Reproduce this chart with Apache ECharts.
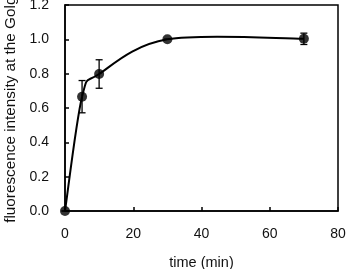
<!DOCTYPE html>
<html>
<head>
<meta charset="utf-8">
<script src="https://cdn.jsdelivr.net/npm/echarts@6/dist/echarts.min.js"></script>
<style>
  html, body { margin: 0; padding: 0; background: #fff; }
  #chart { width: 349px; height: 269px; }
</style>
</head>
<body>
<div id="chart"></div>
<script>
  // time points (min), mean intensity and error bar half-widths
  var times = [0, 5, 10, 30, 70]
  var intensity = [0, 0.666, 0.798, 1.0, 1.003]
  var errors = [0, 0.094, 0.083, 0, 0.033]
  var xTicks = [0, 20, 40, 60, 80]
  var yTicks = [0, 0.2, 0.4, 0.6, 0.8, 1.0, 1.2]

  var font = 'Liberation Sans, Arial, sans-serif'
  var chart = echarts.init(document.getElementById('chart'))

  var points = times.map(function (t, i) { return [t, intensity[i]] })
  var bars = times.map(function (t, i) {
    return [t, intensity[i] - errors[i], intensity[i] + errors[i]]
  })

  // smoothed segment i -> i+1 (catmull-rom style, like a spreadsheet "smoothed line")
  function segment(params, api) {
    var i = params.dataIndex
    if (i >= points.length - 1) return
    var p = function (k) {
      k = Math.max(0, Math.min(points.length - 1, k))
      return api.coord(points[k])
    }
    var p0 = p(i - 1), p1 = p(i), p2 = p(i + 1), p3 = p(i + 2)
    var c1 = [p1[0] + (p2[0] - p0[0]) / 6, p1[1] + (p2[1] - p0[1]) / 6]
    var c2 = [p2[0] - (p3[0] - p1[0]) / 6, p2[1] - (p3[1] - p1[1]) / 6]
    return {
      type: 'bezierCurve',
      shape: { x1: p1[0], y1: p1[1], x2: p2[0], y2: p2[1], cpx1: c1[0], cpy1: c1[1], cpx2: c2[0], cpy2: c2[1] },
      style: { stroke: '#000', lineWidth: 2, fill: null }
    }
  }

  var option = {
    animation: false,
    grid: {
      left: 65, right: 11, top: 5, bottom: 58,
      outerBoundsMode: 'none',
      containLabel: false,
      show: true,
      borderColor: '#000',
      borderWidth: 1.5
    },
    xAxis: {
      type: 'value',
      min: xTicks[0],
      max: xTicks[xTicks.length - 1],
      interval: 20,
      name: 'time (min)',
      nameLocation: 'middle',
      nameGap: 44,
      nameTextStyle: { color: '#111', fontSize: 14.5, fontFamily: font },
      axisLine: { lineStyle: { color: '#000', width: 1.5 } },
      axisTick: { inside: true, length: 4, lineStyle: { color: '#000', width: 1.5 } },
      axisLabel: { color: '#111', fontSize: 14, fontFamily: font, margin: 16 },
      splitLine: { show: false }
    },
    yAxis: {
      type: 'value',
      min: yTicks[0],
      max: yTicks[yTicks.length - 1],
      interval: 0.2,
      name: 'fluorescence intensity at the Golgi',
      nameLocation: 'middle',
      nameGap: 45,
      nameTextStyle: { color: '#111', fontSize: 15.3, fontFamily: font },
      axisLine: { lineStyle: { color: '#000', width: 1.5 } },
      axisTick: { inside: true, length: 4, lineStyle: { color: '#000', width: 1.5 } },
      axisLabel: {
        color: '#111', fontSize: 14, fontFamily: font, margin: 16,
        formatter: function (v) { return v.toFixed(1) }
      },
      splitLine: { show: false }
    },
    series: [
      {
        type: 'custom',
        clip: false,
        z: 2,
        renderItem: segment,
        data: points
      },
      {
        type: 'custom',
        clip: false,
        z: 3,
        renderItem: function (params, api) {
          var x = api.value(0)
          var lo = api.coord([x, api.value(1)])
          var hi = api.coord([x, api.value(2)])
          var w = 3.5
          var style = { stroke: '#000', lineWidth: 1.3 }
          return {
            type: 'group',
            children: [
              { type: 'line', shape: { x1: lo[0], y1: lo[1], x2: hi[0], y2: hi[1] }, style: style },
              { type: 'line', shape: { x1: lo[0] - w, y1: lo[1], x2: lo[0] + w, y2: lo[1] }, style: style },
              { type: 'line', shape: { x1: hi[0] - w, y1: hi[1], x2: hi[0] + w, y2: hi[1] }, style: style }
            ]
          }
        },
        data: bars
      },
      {
        type: 'scatter',
        clip: false,
        z: 4,
        symbol: 'circle',
        symbolSize: 10,
        itemStyle: { color: '#000' },
        data: points
      }
    ]
  }
  chart.setOption(option)
</script>
</body>
</html>
